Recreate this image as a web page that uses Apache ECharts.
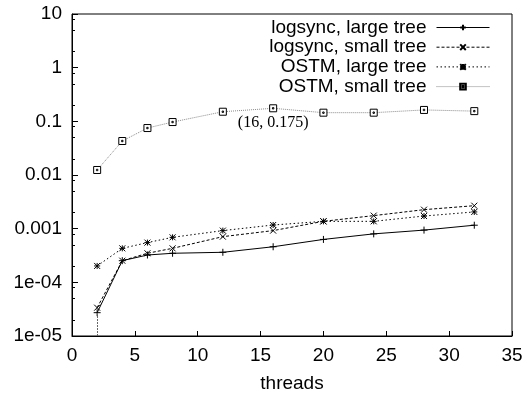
<!DOCTYPE html>
<html>
<head>
<meta charset="utf-8">
<script src="https://cdn.jsdelivr.net/npm/echarts@6/dist/echarts.min.js"></script>
<style>
  html, body { margin: 0; padding: 0; background: #fff; }
  #chart { width: 527px; height: 398px; }
</style>
</head>
<body>
<div id="chart"></div>
<script>
  // x values (threads)
  var threads = [2, 4, 6, 8, 12, 16, 20, 24, 28, 32];
  var logsyncLarge = [2.72e-5, 2.53e-4, 3.23e-4, 3.48e-4, 3.63e-4, 4.6e-4, 6.3e-4, 8.0e-4, 9.4e-4, 1.16e-3];
  var logsyncSmall = [3.37e-5, 2.53e-4, 3.48e-4, 4.3e-4, 7.1e-4, 9.2e-4, 1.37e-3, 1.75e-3, 2.26e-3, 2.68e-3];
  var ostmLarge = [2.02e-4, 4.3e-4, 5.5e-4, 6.9e-4, 9.2e-4, 1.17e-3, 1.37e-3, 1.37e-3, 1.72e-3, 2.05e-3];
  var ostmSmall = [0.0124, 0.043, 0.075, 0.097, 0.151, 0.175, 0.145, 0.145, 0.163, 0.155];
  var seriesNames = ['logsync, large tree', 'logsync, small tree', 'OSTM, large tree', 'OSTM, small tree'];

  var yTickValues = [1e-5, 1e-4, 1e-3, 1e-2, 0.1, 1, 10];
  var yTickLabels = ['1e-05', '1e-04', '0.001', '0.01', '0.1', '1', '10'];
  var yMinorSteps = [2, 5, 8];
  var annotatedIndex = 5; // (16, 0.175)

  var yMinorTicks = [];
  yTickValues.slice(0, -1).forEach(function (d) {
    yMinorSteps.forEach(function (s) { yMinorTicks.push(d * s); });
  });

  function pairs(ys) {
    return threads.map(function (x, i) { return [x, ys[i]]; });
  }

  var plusSym = 'path://M0,5L10,5M5,0L5,10';
  var crossSym = 'path://M0,0L10,10M10,0L0,10';
  var starSym = 'path://M0,0L10,10M10,0L0,10M0,5L10,5M5,0L5,10';
  var boxSym = 'path://M0,0L10,0L10,10L0,10ZM4,4L6,4L6,6L4,6Z';

  var sansFont = 'Liberation Sans';

  var ostmSmallData = pairs(ostmSmall);
  ostmSmallData[annotatedIndex] = {
    value: ostmSmallData[annotatedIndex],
    label: {
      show: true,
      position: 'bottom',
      distance: 3,
      formatter: function (p) { return '(' + p.value[0] + ', ' + p.value[1] + ')'; },
      fontFamily: 'Liberation Serif',
      fontSize: 16,
      color: '#000'
    }
  };

  var chart = echarts.init(document.getElementById('chart'));
  chart.setOption({
    animation: false,
    grid: {
      left: 72, right: 15, top: 14, bottom: 62,
      show: true, borderColor: '#000', borderWidth: 1
    },
    legend: seriesNames.map(function (name, i) {
      return {
        data: [name],
        right: 37,
        top: 18 + i * 19.7,
        padding: 0,
        align: 'right',
        itemWidth: 53,
        itemHeight: 7,
        lineStyle: { width: 1 },
        textStyle: { fontFamily: sansFont, fontSize: 19, color: '#000', padding: [0, 5, 0, 0] },
        selectedMode: false
      };
    }),
    xAxis: {
      type: 'value',
      min: 0, max: 35, interval: 5,
      name: 'threads',
      nameLocation: 'middle',
      nameGap: 38,
      nameTextStyle: { fontFamily: sansFont, fontSize: 19, color: '#000' },
      axisLine: { lineStyle: { color: '#000' } },
      axisTick: { inside: true, length: 5, lineStyle: { color: '#000' } },
      axisLabel: { fontFamily: sansFont, fontSize: 19, color: '#000', margin: 10 },
      splitLine: { show: false }
    },
    yAxis: [{
      type: 'log',
      logBase: 10,
      min: 1e-5, max: 10,
      axisLine: { lineStyle: { color: '#000' } },
      axisTick: { inside: true, length: 6, lineStyle: { color: '#000' } },
      axisLabel: {
        fontFamily: sansFont, fontSize: 19, color: '#000', margin: 10,
        formatter: function (v) {
          var k = Math.round(Math.log10(v));
          var idx = yTickValues.findIndex(function (t) { return Math.round(Math.log10(t)) === k; });
          return idx >= 0 ? yTickLabels[idx] : '';
        }
      },
      splitLine: { show: false }
    }, {
      type: 'log',
      logBase: 10,
      min: 1e-5, max: 10,
      position: 'left',
      axisLine: { show: false },
      axisTick: { show: true, inside: true, length: 3, customValues: yMinorTicks, lineStyle: { color: '#000' } },
      axisLabel: { show: false },
      splitLine: { show: false }
    }],
    series: [{
      name: seriesNames[0],
      type: 'line',
      data: pairs(logsyncLarge),
      symbol: plusSym,
      symbolSize: 7,
      lineStyle: { color: '#000', width: 1, type: 'solid' },
      itemStyle: { color: '#000', borderColor: '#000', borderWidth: 1 },
      markLine: {
        silent: true,
        symbol: 'none',
        label: { show: false },
        lineStyle: { color: '#666', width: 1, type: [2, 1] },
        data: [[{ coord: [threads[0], yTickValues[0]] }, { coord: [threads[0], logsyncLarge[0]] }]]
      }
    }, {
      name: seriesNames[1],
      type: 'line',
      data: pairs(logsyncSmall),
      symbol: crossSym,
      symbolSize: 6,
      lineStyle: { color: '#000', width: 1, type: [3, 2] },
      itemStyle: { color: '#000', borderColor: '#000', borderWidth: 1 }
    }, {
      name: seriesNames[2],
      type: 'line',
      data: pairs(ostmLarge),
      symbol: starSym,
      symbolSize: 6,
      lineStyle: { color: '#000', width: 1, type: [1.5, 2.5] },
      itemStyle: { color: '#000', borderColor: '#000', borderWidth: 1 }
    }, {
      name: seriesNames[3],
      type: 'line',
      data: ostmSmallData,
      symbol: boxSym,
      symbolSize: 7,
      lineStyle: { color: '#888', width: 1, type: [1, 1] },
      itemStyle: { color: '#fff', borderColor: '#000', borderWidth: 1 }
    }]
  });
</script>
</body>
</html>
